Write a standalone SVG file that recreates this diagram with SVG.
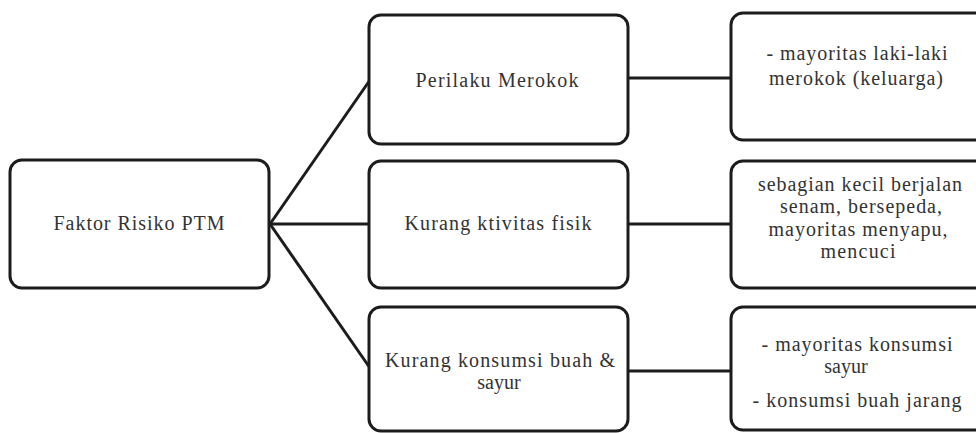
<svg xmlns="http://www.w3.org/2000/svg" width="976" height="433" viewBox="0 0 976 433">
<style>
.box{fill:#ffffff;stroke:#1c1c1c;stroke-width:3}
.t{font-family:"Liberation Serif","Times New Roman","DejaVu Serif",serif;font-size:20px;fill:#333333;text-anchor:middle}
.c{stroke:#1c1c1c;stroke-width:3;fill:none}
</style>
<rect width="976" height="433" fill="#ffffff"/>
<g id="connectors">
<line class="c" x1="270" y1="224" x2="370" y2="80"/>
<line class="c" x1="270" y1="224" x2="370" y2="224"/>
<line class="c" x1="270" y1="224" x2="370" y2="368"/>
<line class="c" x1="628" y1="78" x2="731" y2="78"/>
<line class="c" x1="628" y1="224" x2="731" y2="224"/>
<line class="c" x1="628" y1="371" x2="731" y2="371"/>
</g>
<g id="faktor">
<rect class="box" x="10" y="160" width="259" height="128" rx="12"/>
<text class="t" x="139" y="230" textLength="171" lengthAdjust="spacing">Faktor Risiko PTM</text>
</g>
<g id="merokok">
<rect class="box" x="369" y="15" width="259" height="129" rx="12"/>
<text class="t" x="497" y="87" textLength="163" lengthAdjust="spacing">Perilaku Merokok</text>
</g>
<g id="aktivitas">
<rect class="box" x="369" y="161" width="259" height="127" rx="12"/>
<text class="t" x="498" y="230" textLength="187" lengthAdjust="spacing">Kurang ktivitas fisik</text>
</g>
<g id="konsumsi">
<rect class="box" x="369" y="307" width="259" height="124" rx="12"/>
<text class="t" x="500" y="367" textLength="230" lengthAdjust="spacing">Kurang konsumsi buah &amp;</text>
<text class="t" x="499" y="389">sayur</text>
</g>
<g id="ket-merokok">
<rect class="box" x="731" y="13" width="260" height="127" rx="12"/>
<text class="t" x="857" y="60" textLength="181" lengthAdjust="spacing">- mayoritas laki-laki</text>
<text class="t" x="856" y="85" textLength="174" lengthAdjust="spacing">merokok (keluarga)</text>
</g>
<g id="ket-aktivitas">
<rect class="box" x="731" y="161" width="260" height="127" rx="12"/>
<text class="t" x="860" y="191" textLength="204" lengthAdjust="spacing">sebagian kecil berjalan</text>
<text class="t" x="861" y="213" textLength="162" lengthAdjust="spacing">senam, bersepeda,</text>
<text class="t" x="858" y="236" textLength="179" lengthAdjust="spacing">mayoritas menyapu,</text>
<text class="t" x="858" y="258" textLength="75" lengthAdjust="spacing">mencuci</text>
</g>
<g id="ket-konsumsi">
<rect class="box" x="731" y="307" width="260" height="123" rx="12"/>
<text class="t" x="857" y="351" textLength="191" lengthAdjust="spacing">- mayoritas konsumsi</text>
<text class="t" x="846" y="373">sayur</text>
<text class="t" x="857" y="407" textLength="209" lengthAdjust="spacing">- konsumsi buah jarang</text>
</g>
</svg>
